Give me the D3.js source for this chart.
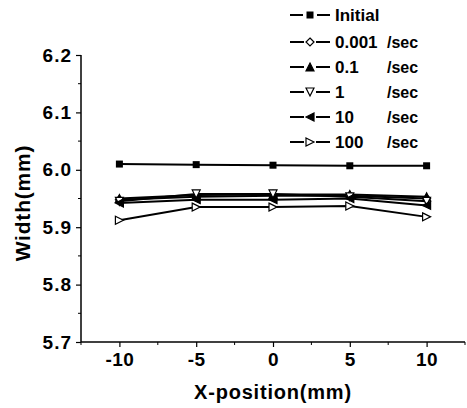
<!DOCTYPE html>
<html>
<head>
<meta charset="utf-8">
<script src="https://cdn.jsdelivr.net/npm/d3@7"></script>
<style>
body { margin: 0; background: #fff; }
text { font-family: "Liberation Sans", Arial, sans-serif; font-weight: bold; fill: #000; }
</style>
</head>
<body>
<div id="holder"></div>
<script>
// x positions (mm)
const xPos = [-10, -5, 0, 5, 10];
const seriesNames = ["Initial", "0.001", "0.1", "1", "10", "100"];
const initial = [6.010, 6.009, 6.008, 6.007, 6.007];
const rate0001 = [5.948, 5.953, 5.955, 5.955, 5.950];
const rate01 = [5.950, 5.956, 5.957, 5.957, 5.953];
const rate1 = [5.945, 5.958, 5.958, 5.953, 5.945];
const rate10 = [5.942, 5.948, 5.948, 5.950, 5.938];
const rate100 = [5.912, 5.935, 5.935, 5.937, 5.918];
const yTicks = [5.7, 5.8, 5.9, 6.0, 6.1, 6.2];
const xTicks = [-10, -5, 0, 5, 10];

const allSeries = [initial, rate0001, rate01, rate1, rate10, rate100];
const markers = ["square", "diamond", "triUp", "triDown", "triLeft", "triRight"];

const w = 467, h = 408;
const svg = d3.select("#holder").append("svg").attr("width", w).attr("height", h);

const xScale = d3.scaleLinear().domain([-12.5, 12.5]).range([81, 465]);
const yScale = d3.scaleLinear().domain([5.7, 6.2]).range([342, 55]);

// marker drawing
function drawMarker(g, type, x, y) {
    let s = 4;
    let p;
    if (type == "square") {
        g.append("rect").attr("x", x - 3.5).attr("y", y - 3.5).attr("width", 7).attr("height", 7).attr("fill", "#000");
        return;
    }
    if (type == "diamond") p = [[x, y - s], [x + s, y], [x, y + s], [x - s, y]];
    if (type == "triUp") p = [[x, y - s], [x + s, y + s], [x - s, y + s]];
    if (type == "triDown") p = [[x - s, y - s], [x + s, y - s], [x, y + s]];
    if (type == "triLeft") p = [[x - s, y], [x + s, y - s], [x + s, y + s]];
    if (type == "triRight") p = [[x - s, y - s], [x + s, y], [x - s, y + s]];
    let filled = (type == "triUp" || type == "triLeft");
    g.append("polygon")
        .attr("points", p.map(d => d.join(",")).join(" "))
        .attr("fill", filled ? "#000" : "#fff")
        .attr("stroke", "#000")
        .attr("stroke-width", 1.2);
}

// lines
const valueLine = d3.line()
    .x((d, i) => xScale(xPos[i]))
    .y(d => yScale(d));

allSeries.forEach((data, ind) => {
    svg.append("path")
        .attr("d", valueLine(data))
        .attr("fill", "none")
        .attr("stroke", "#000")
        .attr("stroke-width", 2);
});
allSeries.forEach((data, ind) => {
    let g = svg.append("g");
    data.forEach((v, i) => drawMarker(g, markers[ind], xScale(xPos[i]), yScale(v)));
});

// axes
const xAxis = d3.axisBottom(xScale).tickValues(xTicks).tickSize(5).tickPadding(6)
    .tickFormat(d => String(d));
const xg = svg.append("g").attr("transform", "translate(0," + 342 + ")").call(xAxis);
const yAxis = d3.axisLeft(yScale).tickValues(yTicks).tickSize(5).tickPadding(4).tickFormat(d3.format(".1f"));
const yg = svg.append("g").attr("transform", "translate(81,0)").call(yAxis);
[xg, yg].forEach(g => {
    g.select(".domain").attr("stroke", "#000").attr("stroke-width", 1.5);
    g.selectAll(".tick line").attr("stroke", "#000").attr("stroke-width", 1.2);
    g.selectAll("text").style("font-size", "19px").style("font-family", "'Liberation Sans', Arial, sans-serif").style("font-weight", "bold");
});
xg.selectAll("text").style("letter-spacing", "0.5px");
yg.selectAll("text").style("letter-spacing", "1px");
xg.select(".domain").attr("d", "M81,0H465");
yg.select(".domain").attr("d", "M0,55V342");

// minor ticks
d3.range(-12.5, 12.6, 2.5).filter(v => xTicks.indexOf(v) < 0).forEach(v => {
    svg.append("line").attr("x1", xScale(v)).attr("x2", xScale(v)).attr("y1", 342).attr("y2", 345)
        .attr("stroke", "#000").attr("stroke-width", 1);
});
[5.75, 5.85, 5.95, 6.05, 6.15].forEach(v => {
    svg.append("line").attr("x1", 78).attr("x2", 81).attr("y1", yScale(v)).attr("y2", yScale(v))
        .attr("stroke", "#000").attr("stroke-width", 1);
});

// labels
svg.append("text").attr("x", 273).attr("y", 399).attr("text-anchor", "middle")
    .style("font-size", "20px").style("letter-spacing", "0.8px").text("X-position(mm)");
svg.append("text").attr("transform", "translate(30,203) rotate(-90)").attr("text-anchor", "middle")
    .style("font-size", "21px").style("letter-spacing", "0.8px").text("Width(mm)");

// legend
const legY = [15, 42, 67, 92, 117, 142];
seriesNames.forEach((name, ind) => {
    let y = legY[ind];
    svg.append("line").attr("x1", 290).attr("x2", 330).attr("y1", y).attr("y2", y)
        .attr("stroke", "#000").attr("stroke-width", 2);
    if (ind == 0) {
        svg.append("rect").attr("x", 303).attr("y", y - 4).attr("width", 14).attr("height", 8).attr("fill", "#fff");
    } else {
        svg.append("rect").attr("x", 304).attr("y", y - 5).attr("width", 12).attr("height", 10).attr("fill", "#fff");
    }
    drawMarker(svg.append("g"), markers[ind], 310, y);
    svg.append("text").attr("x", 335).attr("y", y + 6).style("font-size", "17px").text(name);
    if (ind > 0) {
        svg.append("text").attr("x", 387).attr("y", y + 6).style("font-size", "16px").text("/sec");
    }
});
</script>
</body>
</html>
